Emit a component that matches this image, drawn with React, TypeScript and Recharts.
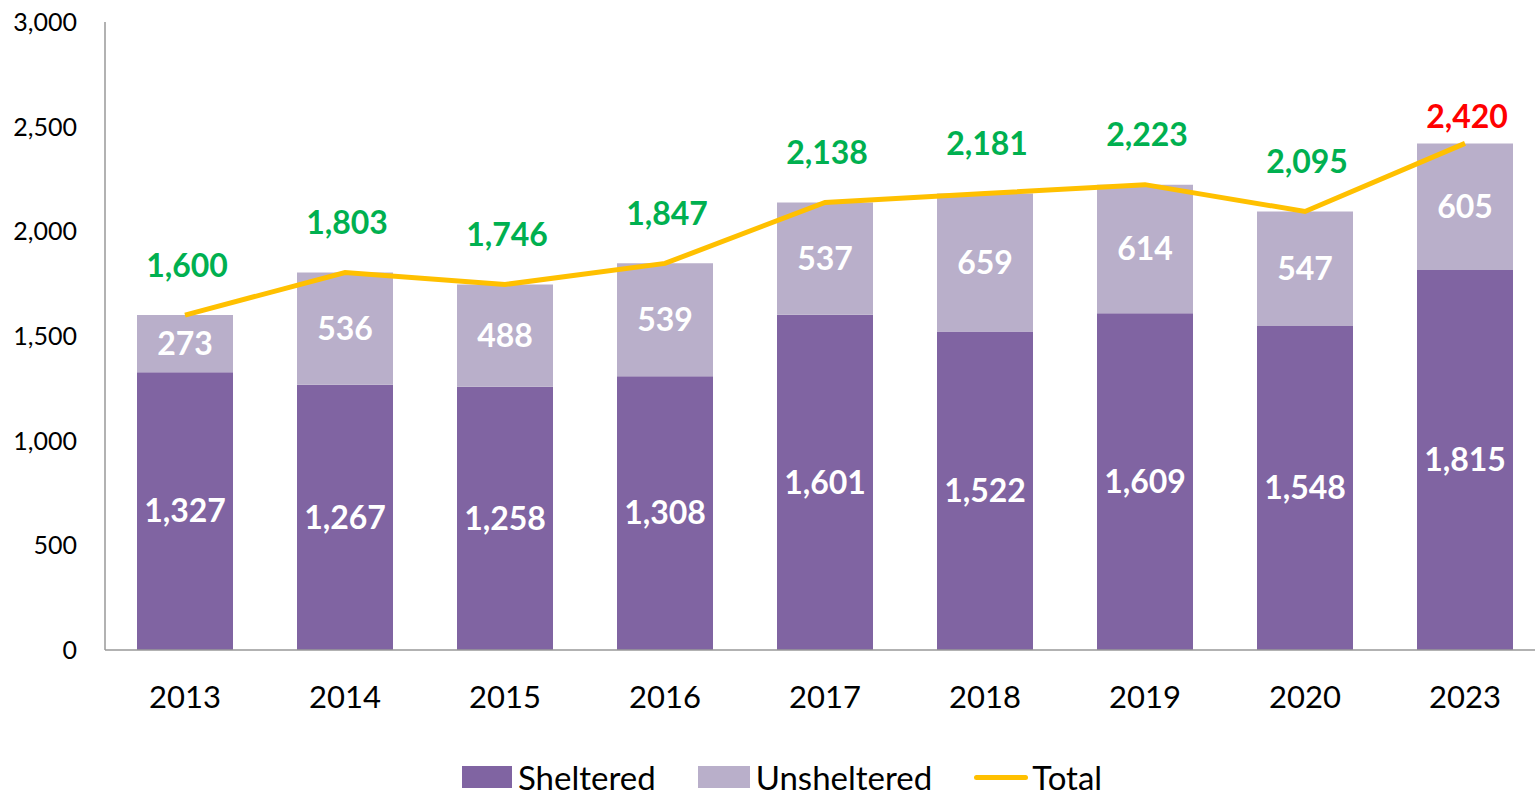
// stacked bars of sheltered / unsheltered counts with a total line on top

import { ComposedChart, Bar, Line, XAxis, YAxis, Legend, LabelList } from 'recharts';

const years = ['2013', '2014', '2015', '2016', '2017', '2018', '2019', '2020', '2023'];
const sheltered = [1327, 1267, 1258, 1308, 1601, 1522, 1609, 1548, 1815];
const unsheltered = [273, 536, 488, 539, 537, 659, 614, 547, 605];
const totals = [1600, 1803, 1746, 1847, 2138, 2181, 2223, 2095, 2420];
const yTicks = [0, 500, 1000, 1500, 2000, 2500, 3000];

const DARK = '#8064A2';
const LIGHT = '#B9AFCA';
const GOLD = '#FFC000';
const FONT = 'Lato, sans-serif';

const data = years.map((year, i) => ({
  year,
  sheltered: sheltered[i],
  unsheltered: unsheltered[i],
  total: totals[i],
}));

const fmt = (v: number) => v.toLocaleString('en-US');

// total labels float above the line; the latest year is highlighted in red
function TotalLabel(props: any) {
  const { x, y, value, index } = props;
  const last = index === years.length - 1;
  return (
    <text
      x={x + 2}
      y={y - (last ? 28 : 51)}
      textAnchor="middle"
      dominantBaseline="central"
      fill={last ? '#FF0000' : '#00B050'}
      fontWeight="bold"
      fontSize={32}
      fontFamily={FONT}
    >
      {fmt(value)}
    </text>
  );
}

function LegendBox() {
  const item = { display: 'flex', alignItems: 'center', marginRight: 42 } as const;
  const text = { fontSize: 33, color: '#000', marginLeft: 6, lineHeight: '36px' } as const;
  return (
    <div style={{ display: 'flex', alignItems: 'center', height: 36, fontFamily: FONT }}>
      <div style={item}>
        <span style={{ width: 50, height: 22, background: DARK, display: 'inline-block' }} />
        <span style={text}>Sheltered</span>
      </div>
      <div style={item}>
        <span style={{ width: 52, height: 22, background: LIGHT, display: 'inline-block' }} />
        <span style={text}>Unsheltered</span>
      </div>
      <div style={item}>
        <span style={{ width: 54, height: 5, background: GOLD, display: 'inline-block', borderRadius: 3 }} />
        <span style={{ ...text, marginLeft: 4 }}>Total</span>
      </div>
    </div>
  );
}

export default function App() {
  return (
    <div style={{ position: 'absolute', left: 0, top: 0, width: 1535, height: 798, overflow: 'hidden', background: '#fff' }}>
      <ComposedChart
        width={1545}
        height={798}
        data={data}
        margin={{ top: 22, right: 0, bottom: 52, left: 0 }}
        barCategoryGap="20%"
        style={{ fontFamily: FONT }}
      >
        <XAxis
          dataKey="year"
          axisLine={{ stroke: '#999', strokeWidth: 1.5 }}
          tickLine={false}
          tickMargin={30}
          height={60}
          tick={{ fontSize: 31, fill: '#000', fontFamily: FONT }}
        />
        <YAxis
          domain={[0, 3000]}
          ticks={yTicks}
          width={105}
          axisLine={{ stroke: '#999', strokeWidth: 1.5 }}
          tickLine={false}
          tickMargin={22}
          tickFormatter={fmt}
          tick={{ fontSize: 25, fill: '#000', fontFamily: FONT }}
        />
        <Legend
          verticalAlign="bottom"
          content={<LegendBox />}
          wrapperStyle={{ top: 759, left: 462, bottom: 'auto', width: 'auto' }}
        />
        <Bar dataKey="sheltered" stackId="a" fill={DARK} isAnimationActive={false}>
          <LabelList
            dataKey="sheltered"
            position="center"
            formatter={fmt}
            fill="#fff"
            fontWeight="bold"
            fontSize={32}
            fontFamily={FONT}
          />
        </Bar>
        <Bar dataKey="unsheltered" stackId="a" fill={LIGHT} isAnimationActive={false}>
          <LabelList
            dataKey="unsheltered"
            position="center"
            formatter={fmt}
            fill="#fff"
            fontWeight="bold"
            fontSize={32}
            fontFamily={FONT}
          />
        </Bar>
        <Line
          dataKey="total"
          type="linear"
          stroke={GOLD}
          strokeWidth={5}
          dot={false}
          isAnimationActive={false}
        >
          <LabelList dataKey="total" content={<TotalLabel />} />
        </Line>
      </ComposedChart>
    </div>
  );
}
